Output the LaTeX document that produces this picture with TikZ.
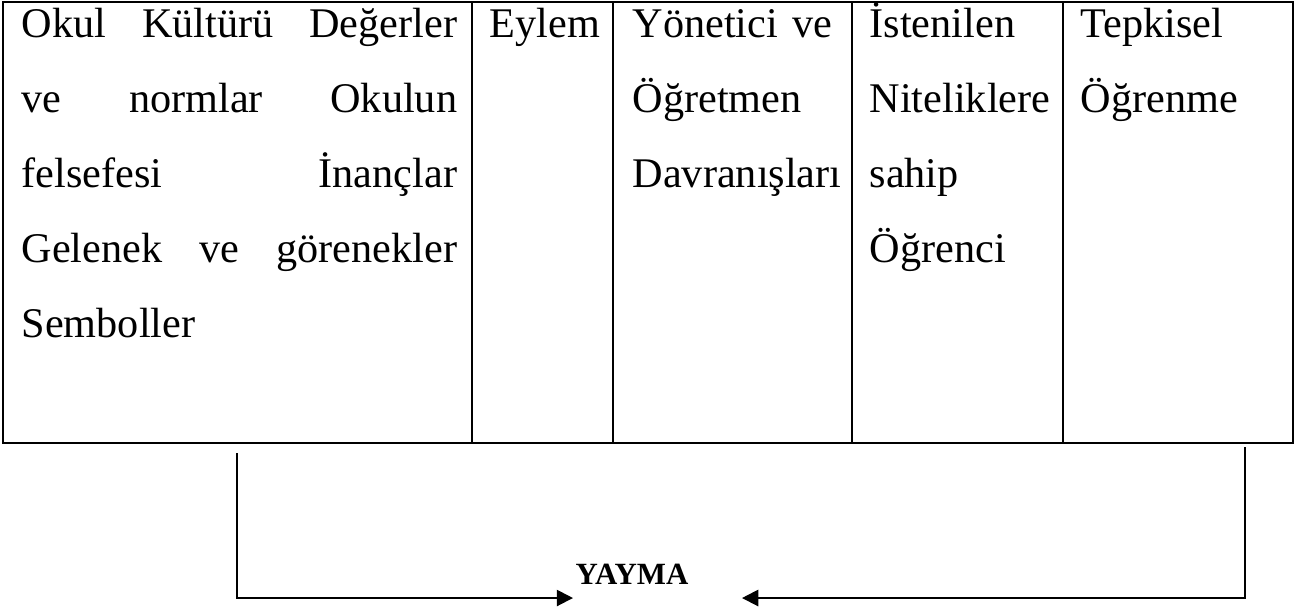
\documentclass[tikz,border=0pt]{standalone}
\usepackage{fontspec}
\setmainfont{Liberation Serif}
\usetikzlibrary{arrows.meta}
\newcommand{\jline}[1]{\makebox[134pt][l]{#1}}
\begin{document}
\begin{tikzpicture}[x=0.3077pt,y=-0.3077pt,
  grid/.style={line width=0.55pt},
  celltext/.style={anchor=base west, inner sep=0pt, align=left, font=\fontsize{13}{23.1}\selectfont},
  conn/.style={line width=0.6pt, -{Triangle[length=5pt,width=5pt]}}]
\useasboundingbox (0,0) rectangle (1302,606);
% table
\draw[grid] (3,2) rectangle (1293,443);
\foreach \x in {472,613,852,1063} \draw[grid] (\x,2) -- (\x,443);
% cell texts
\node[celltext, text width=134pt] (c1) at (21,37) {%
\jline{Okul\hfill Kültürü\hfill Değerler}\\
\jline{ve\hfill normlar\hfill Okulun}\\
\jline{felsefesi\hfill İnançlar}\\
\jline{Gelenek\hfill ve\hfill görenekler}\\
Semboller};
\node[celltext, text width=40pt] (c2) at (489,37) {Eylem};
\node[celltext, text width=70pt] (c3) at (632,37) {Yönetici ve\\Öğretmen\\Davranışları};
\node[celltext, text width=62pt] (c4) at (869,37) {İstenilen\\Niteliklere\\sahip\\Öğrenci};
\node[celltext, text width=65pt] (c5) at (1080,37) {Tepkisel\\Öğrenme};
% connectors
\coordinate (l1) at (237,453);
\coordinate (ltip) at (573,598);
\coordinate (r1) at (1245,447);
\coordinate (rtip) at (742,598);
\node[anchor=base west, inner sep=0pt, font=\bfseries\fontsize{9.5}{11}\selectfont] (yayma) at (575,584) {YAYMA};
\draw[conn] (l1) |- (ltip);
\draw[conn] (r1) |- (rtip);
\end{tikzpicture}
\end{document}
